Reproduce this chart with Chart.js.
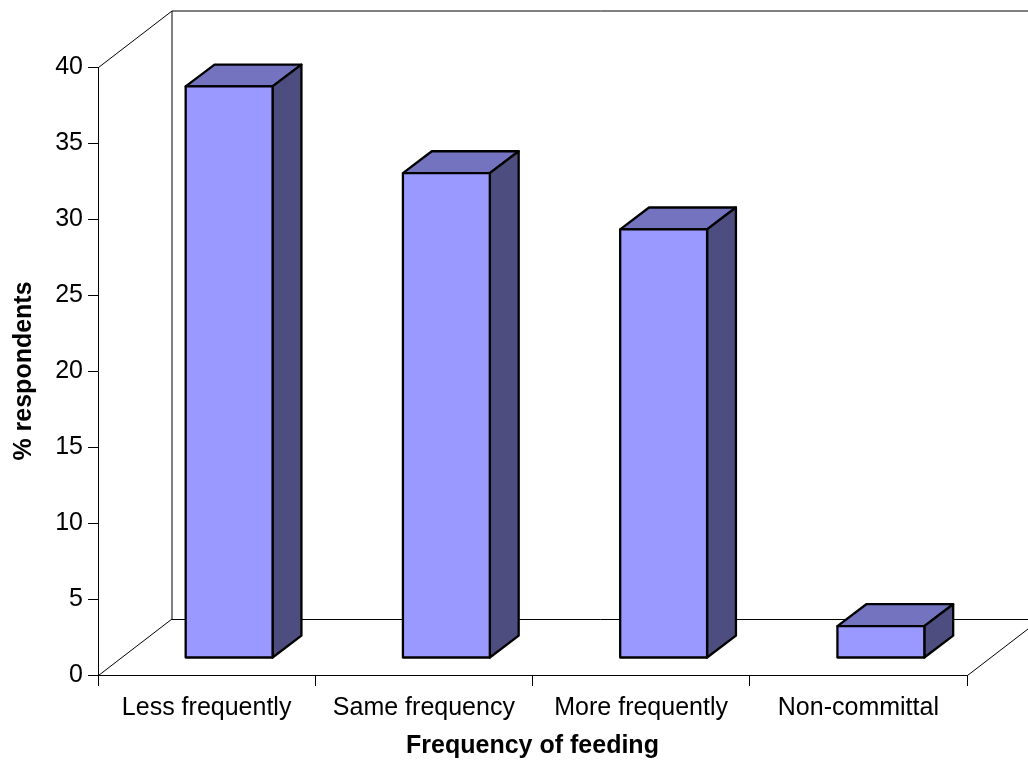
<!DOCTYPE html>
<html>
<head>
<meta charset="utf-8">
<title>Frequency of feeding</title>
<script src="https://cdn.jsdelivr.net/npm/chart.js@4/dist/chart.umd.min.js"></script>
<style>
  html, body { margin: 0; padding: 0; background: #ffffff; }
  canvas { display: block; }
</style>
</head>
<body>
<canvas id="chart" width="1028" height="761"></canvas>
<script>
// Survey results: share of respondents by change in feeding frequency
const categories = ['Less frequently', 'Same frequency', 'More frequently', 'Non-committal'];
const respondents = [37.6, 31.9, 28.2, 2.1];
const yTicks = [0, 5, 10, 15, 20, 25, 30, 35, 40];

const FONT = '"Liberation Sans", Arial, Helvetica, sans-serif';

// Oblique projection of the depth axis (pixels for the full floor depth)
const DEPTH_X = 74;
const DEPTH_Y = -56;
const BAR_FRONT = 0.304;  // where the bar fronts sit along the depth
const BAR_DEPTH = 0.39;   // how deep each bar is

const FACE_FRONT = '#9999FF';
const FACE_TOP = '#7373BF';
const FACE_SIDE = '#4D4D80';

// Draws the side wall, back wall and floor outlines
const wallsPlugin = {
  id: 'walls',
  beforeDatasetsDraw(chart) {
    const { ctx, chartArea: a, scales } = chart;
    const yTop = scales.y.getPixelForValue(yTicks[yTicks.length - 1]);
    const yBase = scales.y.getPixelForValue(0);
    const l = a.left, r = a.right;
    ctx.save();
    ctx.strokeStyle = '#000';
    ctx.lineWidth = 1;

    // back wall: top and left edges
    ctx.beginPath();
    ctx.moveTo(Math.round(l + DEPTH_X), Math.round(yBase + DEPTH_Y));
    ctx.lineTo(Math.round(l + DEPTH_X), Math.round(yTop + DEPTH_Y));
    ctx.lineTo(r + DEPTH_X + 20, Math.round(yTop + DEPTH_Y));
    ctx.stroke();

    // side wall top, floor back edge and floor diagonals
    ctx.beginPath();
    ctx.moveTo(l + 0.5, yTop + 0.5);
    ctx.lineTo(l + DEPTH_X, yTop + DEPTH_Y);
    ctx.moveTo(l + 0.5, yBase + 0.5);
    ctx.lineTo(l + DEPTH_X, yBase + DEPTH_Y);
    ctx.moveTo(l + DEPTH_X, Math.round(yBase + DEPTH_Y) + 0.5);
    ctx.lineTo(r + DEPTH_X + 20, Math.round(yBase + DEPTH_Y) + 0.5);
    ctx.moveTo(r + 0.5, yBase + 0.5);
    ctx.lineTo(r + DEPTH_X, yBase + DEPTH_Y);
    ctx.stroke();
    ctx.restore();
  }
};

// Draws each bar as a shaded box from the bar element geometry
const boxesPlugin = {
  id: 'boxes',
  afterDatasetsDraw(chart) {
    const { ctx } = chart;
    const meta = chart.getDatasetMeta(0);
    const ox = DEPTH_X * BAR_FRONT, oy = DEPTH_Y * BAR_FRONT;
    const bx = DEPTH_X * BAR_DEPTH, by = DEPTH_Y * BAR_DEPTH;
    ctx.save();
    ctx.lineWidth = 2.3;
    ctx.lineJoin = 'round';
    ctx.strokeStyle = '#000';
    meta.data.forEach((bar) => {
      const p = bar.getProps(['x', 'y', 'base', 'width'], true);
      const L = p.x - p.width / 2 + ox;
      const R = p.x + p.width / 2 + ox;
      const T = p.y + oy;
      const B = p.base + oy;

      // top face
      ctx.beginPath();
      ctx.moveTo(L, T);
      ctx.lineTo(L + bx, T + by);
      ctx.lineTo(R + bx, T + by);
      ctx.lineTo(R, T);
      ctx.closePath();
      ctx.fillStyle = FACE_TOP;
      ctx.fill();
      ctx.stroke();

      // side face
      ctx.beginPath();
      ctx.moveTo(R, T);
      ctx.lineTo(R + bx, T + by);
      ctx.lineTo(R + bx, B + by);
      ctx.lineTo(R, B);
      ctx.closePath();
      ctx.fillStyle = FACE_SIDE;
      ctx.fill();
      ctx.stroke();

      // front face
      ctx.beginPath();
      ctx.rect(L, T, R - L, B - T);
      ctx.fillStyle = FACE_FRONT;
      ctx.fill();
      ctx.stroke();
    });
    ctx.restore();
  }
};

new Chart(document.getElementById('chart'), {
  type: 'bar',
  data: {
    labels: categories,
    datasets: [{
      label: '% respondents',
      data: respondents,
      backgroundColor: 'rgba(0,0,0,0)',
      borderWidth: 0,
      categoryPercentage: 1.0,
      barPercentage: 0.4
    }]
  },
  options: {
    responsive: false,
    animation: false,
    events: [],
    layout: { padding: { top: 67, right: 61, left: 0, bottom: 0 } },
    plugins: {
      legend: { display: false },
      tooltip: { enabled: false }
    },
    scales: {
      x: {
        type: 'category',
        offset: true,
        grid: { offset: true, drawOnChartArea: false, tickLength: 11, color: '#000', lineWidth: 1 },
        border: { color: '#000', width: 1 },
        ticks: {
          color: '#000',
          font: { family: FONT, size: 25 },
          padding: 7,
          maxRotation: 0,
          autoSkip: false
        },
        title: {
          display: true,
          text: 'Frequency of feeding',
          color: '#000',
          font: { family: FONT, size: 25, weight: 'bold' },
          padding: { top: 0, bottom: 0 }
        },
        afterFit(scale) { scale.height = 86; }
      },
      y: {
        min: 0,
        max: 40,
        afterBuildTicks(scale) { scale.ticks = yTicks.map(v => ({ value: v })); },
        grid: { drawOnChartArea: false, tickLength: 10, color: '#000', lineWidth: 1 },
        border: { color: '#000', width: 1 },
        ticks: {
          color: '#000',
          font: { family: FONT, size: 25 },
          padding: 5
        },
        title: {
          display: true,
          text: '% respondents',
          color: '#000',
          font: { family: FONT, size: 25, weight: 'bold' },
          padding: { top: 9, bottom: 0 }
        },
        afterFit(scale) { scale.width = 98; }
      }
    }
  },
  plugins: [wallsPlugin, boxesPlugin]
});
</script>
</body>
</html>
